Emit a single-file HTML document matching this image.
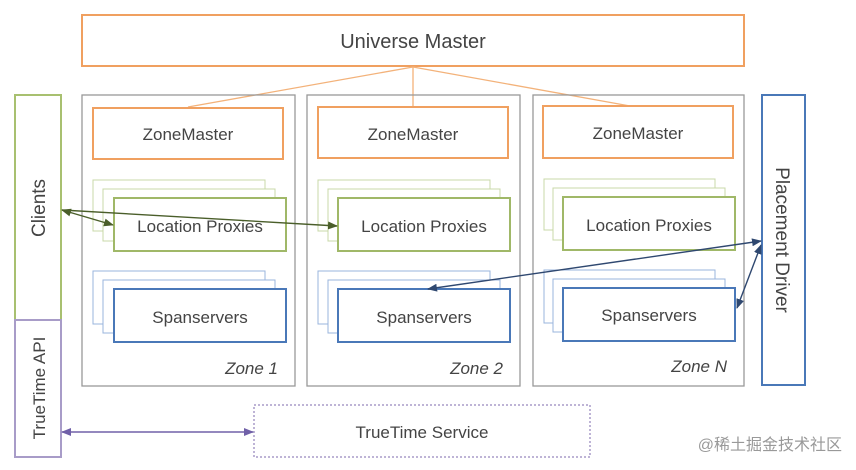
<!DOCTYPE html>
<html><head><meta charset="utf-8"><style>
html,body{margin:0;padding:0;background:#fff;}
svg{display:block;}
text{font-family:"Liberation Sans","Noto Sans CJK SC",sans-serif;fill:#444;}
</style></head><body>
<svg width="856" height="470" viewBox="0 0 856 470" xmlns="http://www.w3.org/2000/svg">
<defs>
<marker id="ag" markerWidth="10" markerHeight="8" refX="9" refY="4" orient="auto-start-reverse" markerUnits="userSpaceOnUse"><path d="M0,0 L10,4 L0,8 z" fill="#4a5e2a"/></marker>
<marker id="ab" markerWidth="10" markerHeight="8" refX="9" refY="4" orient="auto-start-reverse" markerUnits="userSpaceOnUse"><path d="M0,0 L10,4 L0,8 z" fill="#2f4870"/></marker>
<marker id="ap" markerWidth="10" markerHeight="8" refX="9" refY="4" orient="auto-start-reverse" markerUnits="userSpaceOnUse"><path d="M0,0 L10,4 L0,8 z" fill="#7060a8"/></marker>
</defs>
<!-- Universe master -->
<rect x="82" y="15" width="662" height="51" fill="#fff" stroke="#f0a060" stroke-width="2"/>
<text x="413" y="48" font-size="20" text-anchor="middle">Universe Master</text>
<g stroke="#f3b27a" stroke-width="1.3">
<line x1="413" y1="67" x2="188" y2="107"/>
<line x1="413" y1="67" x2="413" y2="107"/>
<line x1="413" y1="67" x2="630" y2="106"/>
</g>
<!-- Clients / TrueTime API -->
<rect x="15" y="95" width="46" height="225" fill="#fff" stroke="#a8c070" stroke-width="2"/>
<rect x="15" y="320" width="46" height="137" fill="#fff" stroke="#a89cc8" stroke-width="2"/>
<text transform="translate(45,208) rotate(-90)" font-size="19" text-anchor="middle">Clients</text>
<text transform="translate(45,388) rotate(-90)" font-size="17" text-anchor="middle">TrueTime API</text>
<!-- Placement driver -->
<rect x="762" y="95" width="43" height="290" fill="#fff" stroke="#4a78b8" stroke-width="2"/>
<text transform="translate(776,240) rotate(90)" font-size="19" text-anchor="middle">Placement Driver</text>
<!-- Zones -->
<g id="z">
</g>
<g font-size="17">
<!-- zone 1 -->
<rect x="82" y="95" width="213" height="291" fill="none" stroke="#999" stroke-width="1.3"/>
<rect x="93" y="108" width="190" height="51" fill="#fff" stroke="#f0a060" stroke-width="2"/>
<text x="188" y="140" text-anchor="middle">ZoneMaster</text>
<rect x="93" y="180" width="172" height="51" fill="#fff" stroke="#c8d8a8" stroke-width="1"/>
<rect x="103" y="189" width="172" height="52" fill="#fff" stroke="#c8d8a8" stroke-width="1"/>
<rect x="114" y="198" width="172" height="53" fill="#fff" stroke="#a0b868" stroke-width="2"/>
<text x="200" y="232" text-anchor="middle">Location Proxies</text>
<rect x="93" y="271" width="172" height="53" fill="#fff" stroke="#9ab4dc" stroke-width="1"/>
<rect x="103" y="280" width="172" height="53" fill="#fff" stroke="#9ab4dc" stroke-width="1"/>
<rect x="114" y="289" width="172" height="53" fill="#fff" stroke="#4a78b8" stroke-width="2"/>
<text x="200" y="323" text-anchor="middle">Spanservers</text>
<text x="278" y="374" text-anchor="end" font-style="italic">Zone 1</text>
<!-- zone 2 -->
<rect x="307" y="95" width="213" height="291" fill="none" stroke="#999" stroke-width="1.3"/>
<rect x="318" y="107" width="190" height="51" fill="#fff" stroke="#f0a060" stroke-width="2"/>
<text x="413" y="140" text-anchor="middle">ZoneMaster</text>
<rect x="318" y="180" width="172" height="51" fill="#fff" stroke="#c8d8a8" stroke-width="1"/>
<rect x="328" y="189" width="172" height="52" fill="#fff" stroke="#c8d8a8" stroke-width="1"/>
<rect x="338" y="198" width="172" height="53" fill="#fff" stroke="#a0b868" stroke-width="2"/>
<text x="424" y="232" text-anchor="middle">Location Proxies</text>
<rect x="318" y="271" width="172" height="53" fill="#fff" stroke="#9ab4dc" stroke-width="1"/>
<rect x="328" y="280" width="172" height="53" fill="#fff" stroke="#9ab4dc" stroke-width="1"/>
<rect x="338" y="289" width="172" height="53" fill="#fff" stroke="#4a78b8" stroke-width="2"/>
<text x="424" y="323" text-anchor="middle">Spanservers</text>
<text x="503" y="374" text-anchor="end" font-style="italic">Zone 2</text>
<!-- zone N -->
<rect x="533" y="95" width="211" height="291" fill="none" stroke="#999" stroke-width="1.3"/>
<rect x="543" y="106" width="190" height="52" fill="#fff" stroke="#f0a060" stroke-width="2"/>
<text x="638" y="139" text-anchor="middle">ZoneMaster</text>
<rect x="544" y="179" width="171" height="51" fill="#fff" stroke="#c8d8a8" stroke-width="1"/>
<rect x="553" y="188" width="172" height="52" fill="#fff" stroke="#c8d8a8" stroke-width="1"/>
<rect x="563" y="197" width="172" height="53" fill="#fff" stroke="#a0b868" stroke-width="2"/>
<text x="649" y="231" text-anchor="middle">Location Proxies</text>
<rect x="544" y="270" width="171" height="53" fill="#fff" stroke="#9ab4dc" stroke-width="1"/>
<rect x="553" y="279" width="172" height="53" fill="#fff" stroke="#9ab4dc" stroke-width="1"/>
<rect x="563" y="288" width="172" height="53" fill="#fff" stroke="#4a78b8" stroke-width="2"/>
<text x="649" y="321" text-anchor="middle">Spanservers</text>
<text x="727" y="372" text-anchor="end" font-style="italic">Zone N</text>
</g>
<!-- TrueTime service -->
<rect x="254" y="405" width="336" height="52" fill="#fff" stroke="#a89cc8" stroke-width="1.5" stroke-dasharray="2,2"/>
<text x="422" y="438" font-size="17" text-anchor="middle">TrueTime Service</text>
<!-- arrows -->
<g stroke-width="1.4" fill="none">
<line x1="62" y1="210" x2="113" y2="225" stroke="#4a5e2a" marker-start="url(#ag)" marker-end="url(#ag)"/>
<line x1="62" y1="210" x2="337" y2="226" stroke="#4a5e2a" marker-end="url(#ag)"/>
<line x1="428" y1="289" x2="761" y2="241" stroke="#2f4870" marker-start="url(#ab)" marker-end="url(#ab)"/>
<line x1="761" y1="245" x2="737" y2="308" stroke="#2f4870" marker-start="url(#ab)" marker-end="url(#ab)"/>
<line x1="62" y1="432" x2="253" y2="432" stroke="#7060a8" marker-start="url(#ap)" marker-end="url(#ap)"/>
</g>
<text x="842" y="450" font-size="16" text-anchor="end" fill="#999" style="fill:#999">@稀土掘金技术社区</text>
</svg>
</body></html>
